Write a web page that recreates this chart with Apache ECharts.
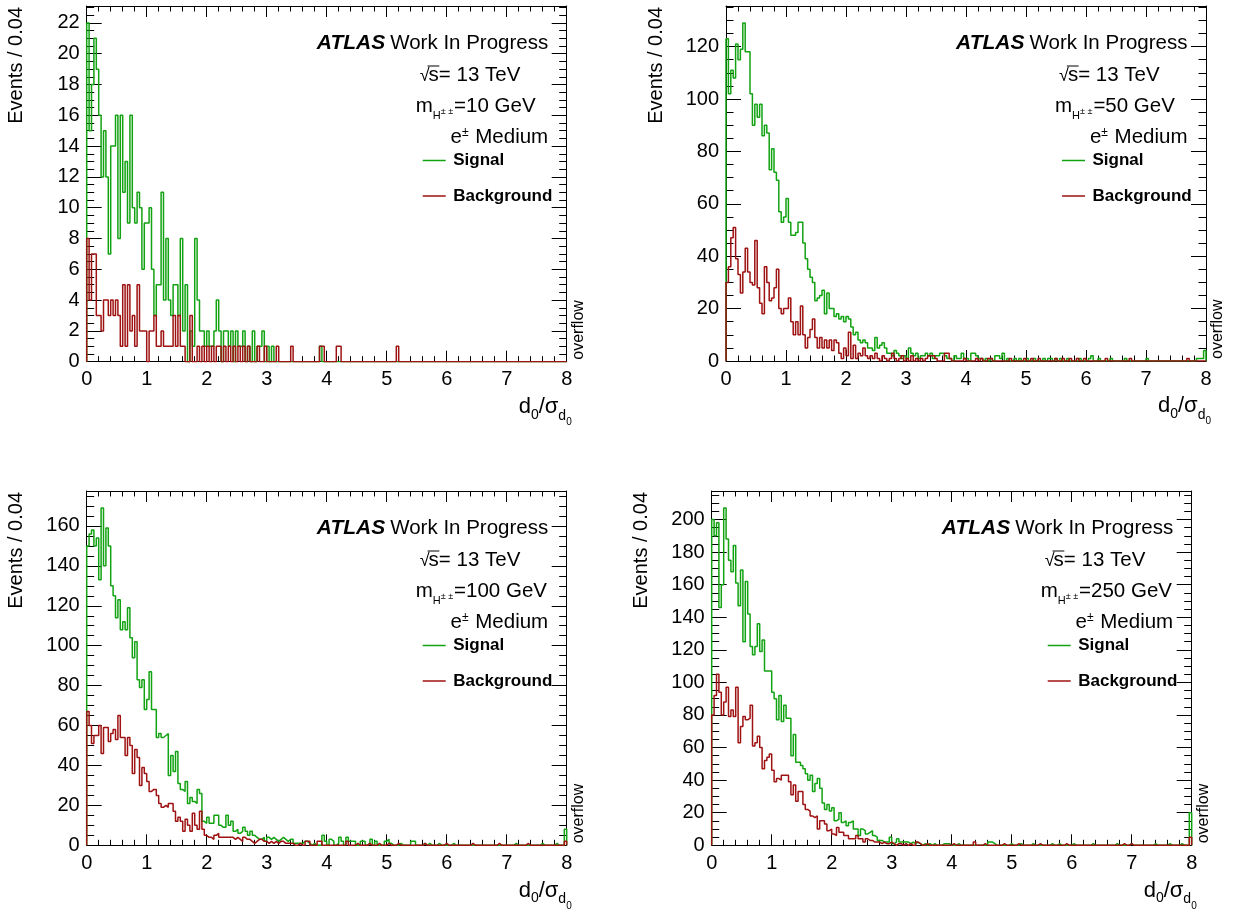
<!DOCTYPE html>
<html><head><meta charset="utf-8">
<script src="https://cdn.jsdelivr.net/npm/echarts@6/dist/echarts.min.js"></script>
<style>html,body{margin:0;padding:0;background:#fff}#c{width:1237px;height:913px}</style>
</head><body><div id="c"></div>
<script>
// ---------------- DATA ----------------
const BIN_WIDTH = 0.04;          // Events / 0.04
const N_BINS = 200;              // 0 .. 8
const X_MIN = 0, X_MAX = 8;
const MASS_LABELS = ['10', '50', '100', '250'];   // m_H±± in GeV
const Y_MAX = [23.1, 135.5, 177.5, 217.5];
const Y_INTERVAL = [2, 20, 20, 20];
const Y_MINOR_SPLIT = [4, 4, 4, 4];

// m = 10 GeV
const sig10Head = [22,15,18,21,19,16,12,15,12,7, 14,14,16,8,16,11,13,9,16,10, 9,11,10,6,9,9,10,6,3,5,
  5,11,4,8,4,3,5,5,3,8, 2,5,0,2,1,8,4,2,2,1, 2,1,1,2,4,2,0,2,2,1, 2,0,2,1,1,2,0,1,0,2, 0,1,1,2,0,1,0,1,0];
const sig10Tail = [[97,1]];
const bkg10Head = [8,4,7,7,3,3,2,4,4,3, 4,3,4,3,1,5,1,5,2,3, 1,5,2,2,2,0,2,2,3,1, 1,2,1,1,1,1,3,1,3,1,
  1,0,0,3,0,0,1,0,1,0, 1,0,1,0,1,1,0,1,0,1, 0,1,0,1,0,1,0,1];
const bkg10Tail = [[71,1],[74,1],[79,1],[85,1],[97,1],[98,1],[104,1],[105,1],[129,1]];

// m = 50 GeV
const sig50Head = [123,102,111,108,121,115,119,129,118,118, 102,90,98,93,98,86,90,87,73,81,
  72,69,57,53,55,62,53,48,48,49, 53,53,45,39,35,32,30,23,24,25, 27,18,26,20,20,17,18,16,17,15,
  17,16,13,10,11,8,7,8,7,5, 5,4,9,5,6,7,5,3,3,2, 4,3,2,1,2,1,5,3,2,3, 1,2,2,3,2,3,1,2];
const sig50Tail = [[88,2],[89,3],[90,3],[91,2],[92,1],[93,1],[95,2],[96,1],[97,1],[98,3],[99,1],[100,1],
  [102,3],[103,3],[104,2],[105,1],[106,1],[108,1],[110,1],[112,2],[113,2],[114,1],[115,3],[117,1],[120,1],
  [122,1],[125,1],[128,1],[132,1],[134,1],[135,1],[137,1],[139,1],[142,1],[147,1],[151,1],[152,2],[155,1],
  [160,1],[166,1],[175,1],[196,1],[197,1],[198,1],[199,4]];
const bkg50Head = [30,36,47,51,39,33,26,34,43,34, 30,29,46,28,22,18,36,30,23,24, 28,35,20,18,20,20,24,15,10,15,
  10,21,10,5,9,12,16,9,5,9, 5,8,5,8,4,8,7,3,1,5, 2,11,1,6,1,3,2,5,2,1, 2,1,3,1,0,2,1,0,1,3,
  1,0,1,2,0,1,0,2,0,1, 0,1,0,1,2,2,2,1];
const bkg50Tail = [[91,3],[92,3],[93,1],[99,1],[104,1],[106,1],[109,1],[110,1],[118,1],[124,1],[127,1],
  [130,1],[137,1],[140,1],[143,1],[146,1],[149,1],[158,1],[168,1],[192,1]];

// m = 100 GeV
const sig100Head = [150,156,158,150,154,133,169,140,159,150, 130,125,114,123,108,112,108,119,104,94,
  102,83,79,83,68,73,87,68,68,54, 56,54,55,56,35,45,37,47,31,28, 27,32,21,24,22,21,28,26,12,11,
  14,11,11,15,15,10,9,9,15,10, 12,7,8,6,7,9,7,5,7,5, 4,3,3,4,2,4,3,4,3,2, 3,4,3,2];
const sig100Tail = [[84,3],[85,3],[86,1],[87,1],[88,1],[89,1],[90,2],[91,2],[92,1],[94,1],[98,5],[99,2],
  [101,3],[102,2],[104,1],[105,4],[106,2],[108,4],[109,2],[110,2],[111,2],[114,2],[115,2],[117,1],[118,3],
  [120,2],[124,2],[125,3],[126,1],[130,1],[135,2],[136,2],[140,1],[142,1],[146,1],[152,1],[178,1],[189,1],
  [195,1],[199,8]];
const bkg100Head = [67,60,51,55,55,60,46,59,59,52, 56,58,53,65,54,54,45,54,50,36, 48,44,30,39,36,32,27,28,28,25,
  21,19,20,19,21,21,17,12,14,12, 7,13,10,7,16,10,8,17,8,5, 4,4,3,5,6,4,4,4,4,4, 4,3,4,3,2,4,3,3,2,1,
  2,3,3,2,2,1,2,1,2,1, 2,2,1,1];
const bkg100Tail = [[84,1],[85,1],[88,1],[91,2],[92,2],[96,2],[97,2],[108,2],[112,1],[117,1],[121,1],
  [125,1],[129,1],[140,1],[149,1],[160,1],[171,1],[183,1],[199,2]];

// m = 250 GeV
const sig250Head = [200,190,198,146,160,207,188,175,168,184, 161,147,169,125,162,142,122,117,122,136,
  119,126,107,107,107,94,90,77,92,76, 86,78,78,55,68,51,51,49,47,44, 40,43,33,38,41,35,26,22,25,21,
  23,15,16,20,14,15,12,14,15,10, 10,6,10,9,7,8,9,6,5,3, 3,2,2,2,5,1,2,4,2,2, 2,2,1,2,1];
const sig250Tail = [[85,2],[86,1],[88,1],[90,1],[92,1],[96,1],[97,1],[98,1],[102,1],[115,2],[116,2],[117,1],
  [124,1],[128,1],[133,1],[141,1],[144,1],[150,1],[158,1],[168,1],[174,1],[184,1],[190,1],[195,1],[199,20]];
const bkg250Head = [80,92,105,94,80,88,97,79,83,79, 97,63,73,79,77,78,86,61,63,67, 60,47,52,54,56,46,39,41,40,43,
  43,43,39,31,37,27,33,33,25,22, 21,18,17,18,10,15,15,13,9,10, 7,6,11,8,8,6,6,4,4,4,
  6,4,4,2,4,3,3,2,2,2, 1,2,1,1,2,1,0,1,1,0, 1,0,1,0];
const bkg250Tail = [[85,2],[86,1],[89,1],[100,1],[109,2],[113,1],[121,1],[127,1],[136,1],[147,1],[171,1],[174,1],[199,5]];

const SIGNAL = [[sig10Head, sig10Tail], [sig50Head, sig50Tail], [sig100Head, sig100Tail], [sig250Head, sig250Tail]];
const BACKGROUND = [[bkg10Head, bkg10Tail], [bkg50Head, bkg50Tail], [bkg100Head, bkg100Tail], [bkg250Head, bkg250Tail]];

// ---------------- LAYOUT / STYLE ----------------
const PANELS = [
  {L: 86.7, T: 6, R: 566.7, B: 361.7},
  {L: 726, T: 6, R: 1206, B: 361},
  {L: 86.7, T: 491, R: 566.7, B: 845.3},
  {L: 711.7, T: 491, R: 1191.7, B: 845.3}
];
const GREEN = '#12a312';
const RED = '#9e1212';
const FF = '"Liberation Sans", Arial, Helvetica, sans-serif';

function fullBins(pair) {
  const head = pair[0], tail = pair[1];
  const arr = new Array(N_BINS).fill(0);
  head.forEach((v, i) => { arr[i] = v; });
  tail.forEach(([i, v]) => { arr[i] = v; });
  return arr;
}
function histPoints(arr) {
  const pts = [[X_MIN, 0]];
  arr.forEach((v, i) => pts.push([X_MIN + i * BIN_WIDTH, v]));
  pts.push([X_MAX, arr[arr.length - 1]]);
  pts.push([X_MAX, 0]);
  return pts;
}

const mctx = document.createElement('canvas').getContext('2d');
function fnt(size, weight, style) { return (style || 'normal') + ' ' + (weight || 'normal') + ' ' + size + 'px ' + FF; }
function tw(text, font) { mctx.font = font; return mctx.measureText(text).width; }
function txt(x, y, text, font, align, extra) {
  return Object.assign({type: 'text', x: x, y: y, silent: true, z: 100,
    style: {text: text, font: font, fill: '#000', align: align || 'left', textAlign: align || 'left',
      verticalAlign: 'middle', textVerticalAlign: 'middle'}}, extra || {});
}
function partsWidth(parts) {
  return parts.reduce((s, p) => s + tw(p.t, fnt(p.size, p.weight, p.style)) + (p.gap || 0), 0);
}
function runs(x0, base, parts) {
  const els = []; let x = x0;
  parts.forEach(p => {
    const f = fnt(p.size, p.weight, p.style);
    els.push(txt(x, base + (p.dy || 0) - 0.35 * p.size, p.t, f, 'left'));
    x += tw(p.t, f) + (p.gap || 0);
  });
  return els;
}

const grids = [], xAxes = [], yAxes = [], series = [], graphics = [];
PANELS.forEach((P, g) => {
  grids.push({left: P.L, top: P.T, width: P.R - P.L, height: P.B - P.T, show: false, containLabel: false, outerBoundsMode: 'none'});
  const tickStyle = {color: '#000', width: 1};
  const xBase = {gridIndex: g, type: 'value', min: X_MIN, max: X_MAX, interval: 1,
    axisLine: {show: true, onZero: false, lineStyle: {color: '#000', width: 1}},
    axisTick: {show: true, inside: true, length: 11, lineStyle: tickStyle},
    minorTick: {show: true, splitNumber: 5, length: 5.5, lineStyle: tickStyle},
    splitLine: {show: false}, minorSplitLine: {show: false}};
  xAxes.push(Object.assign({}, xBase, {position: 'bottom',
    axisLabel: {show: true, fontSize: 20, fontFamily: FF, color: '#000', margin: 8}}));
  xAxes.push(Object.assign({}, xBase, {position: 'top', axisLabel: {show: false}}));
  const iv = Y_INTERVAL[g];
  const yBase = {gridIndex: g, type: 'value', min: 0, max: Y_MAX[g], interval: iv,
    axisLine: {show: true, onZero: false, lineStyle: {color: '#000', width: 1}},
    axisTick: {show: true, inside: true, length: 15, lineStyle: tickStyle},
    minorTick: {show: true, splitNumber: Y_MINOR_SPLIT[g], length: 7.5, lineStyle: tickStyle},
    splitLine: {show: false}, minorSplitLine: {show: false}};
  yAxes.push(Object.assign({}, yBase, {position: 'left',
    axisLabel: {show: true, fontSize: 20, fontFamily: FF, color: '#000', margin: 7,
      formatter: v => (Math.abs(v / iv - Math.round(v / iv)) < 1e-6 ? String(Math.round(v)) : '')}}));
  yAxes.push(Object.assign({}, yBase, {position: 'right', axisLabel: {show: false}}));

  [[SIGNAL[g], GREEN, 'Signal'], [BACKGROUND[g], RED, 'Background']].forEach(([pair, col, nm]) => {
    series.push({type: 'line', name: nm, xAxisIndex: 2 * g, yAxisIndex: 2 * g, step: 'end',
      data: histPoints(fullBins(pair)), symbol: 'none', showSymbol: false, silent: true,
      lineStyle: {color: col, width: 1.5}, itemStyle: {color: col}, animation: false, z: 3});
  });

  // ---- texts ----
  const R = P.R, T = P.T, L = P.L, B = P.B;
  const wWIP = tw('Work In Progress', fnt(20.5));
  graphics.push(txt(R - 18.5, T + 45 - 0.35 * 20.5, 'Work In Progress', fnt(20.5), 'right'));
  graphics.push(txt(R - 18.5 - wWIP - 5, T + 45 - 0.35 * 21, 'ATLAS', fnt(21, 'bold', 'italic'), 'right'));
  // sqrt(s)
  const sx = R - 147, sBase = T + 76.5;
  const wRad = tw('√', fnt(18)) - 1;
  graphics.push(...runs(sx, sBase, [{t: '√', size: 18, gap: -1}, {t: 's= 13 TeV', size: 20.5}]));
  graphics.push({type: 'line', silent: true, z: 100,
    shape: {x1: sx + wRad - 1, y1: sBase - 16.5, x2: sx + wRad + tw('s', fnt(20.5)) + 0.5, y2: sBase - 16.5},
    style: {stroke: '#000', lineWidth: 1}});
  graphics.push(...runs(R - 151, T + 108, [
    {t: 'm', size: 20.5},
    {t: 'H', size: 11, dy: 6},
    {t: '± ±', size: 9, dy: 1, gap: 1},
    {t: '=' + MASS_LABELS[g] + ' GeV', size: 20.5}]));
  const eParts = [{t: 'e', size: 20.5}, {t: '±', size: 12, dy: -8, gap: 1}, {t: ' Medium', size: 20.5}];
  graphics.push(...runs(R - 18.5 - partsWidth(eParts), T + 139, eParts));
  [[GREEN, 'Signal', 154.5, 160.5], [RED, 'Background', 190, 196]].forEach(([col, lab, ly, by]) => {
    graphics.push({type: 'line', silent: true, z: 100, shape: {x1: R - 144, y1: T + ly, x2: R - 121, y2: T + ly},
      style: {stroke: col, lineWidth: 1.5}});
    graphics.push(txt(R - 113.5, T + by - 0.35 * 17, lab, fnt(17, 'bold'), 'left'));
  });
  // x title d0/sigma_d0
  const xParts = [{t: 'd', size: 22}, {t: '0', size: 14, dy: 5}, {t: '/σ', size: 22},
    {t: 'd', size: 14, dy: 6}, {t: '0', size: 10, dy: 11}];
  graphics.push(...runs(R + 5 - partsWidth(xParts), B + 53, xParts));
  // y title
  graphics.push(txt(L - 70, T + 1, 'Events / 0.04', fnt(20), 'right', {rotation: Math.PI / 2}));
  // overflow
  graphics.push(txt(R + 12, B - 2, 'overflow', fnt(16), 'left', {rotation: Math.PI / 2}));
});

const chart = echarts.init(document.getElementById('c'), null, {renderer: 'canvas', width: 1237, height: 913});
chart.setOption({
  backgroundColor: '#fff',
  animation: false,
  grid: grids, xAxis: xAxes, yAxis: yAxes, series: series,
  graphic: {elements: graphics}
});
</script></body></html>
